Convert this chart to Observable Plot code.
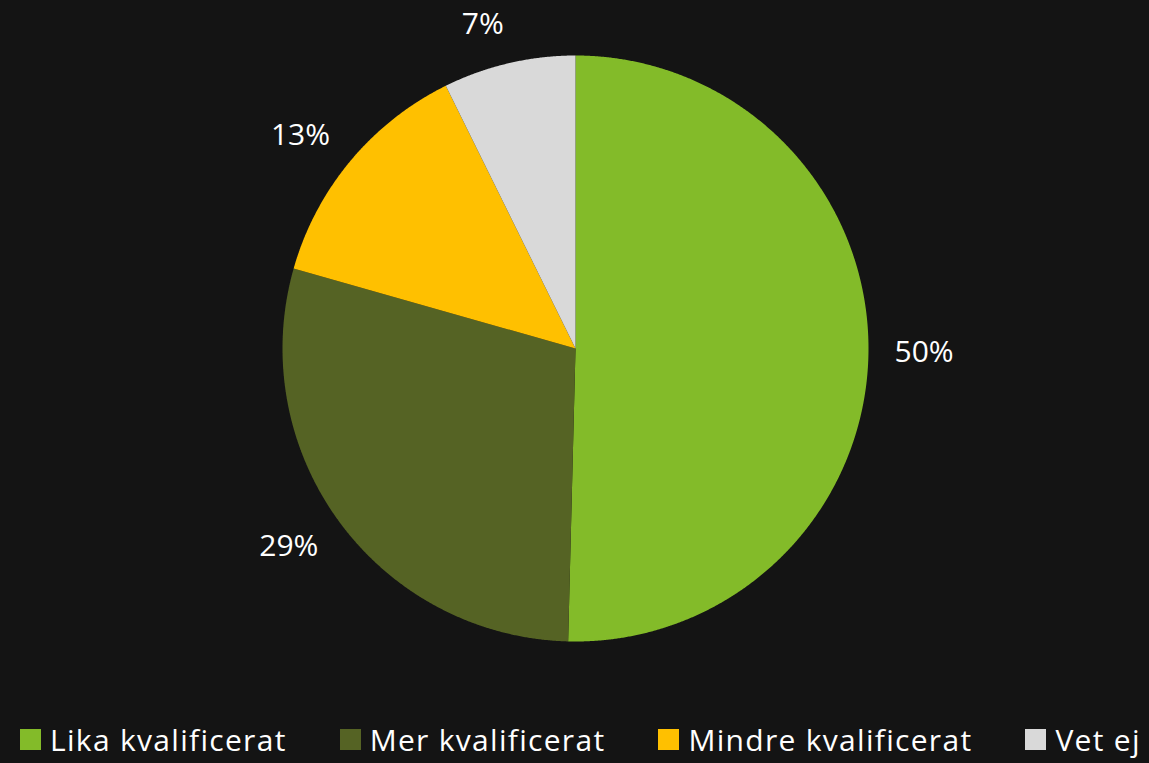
<!DOCTYPE html>
<html><head><meta charset="utf-8">
<script src="https://cdn.jsdelivr.net/npm/d3@7"></script>
<script src="https://cdn.jsdelivr.net/npm/@observablehq/plot@0.6"></script>
<style>
html,body{margin:0;padding:0;background:#141414;}
#chart{width:1149px;height:763px;overflow:hidden;background:#141414;}
#chart svg{display:block;background:#141414;}
.legend{display:flex;align-items:center;height:48px;padding-left:20px;font-family:"Open Sans",sans-serif;font-size:30px;color:#fff;letter-spacing:1.3px;white-space:nowrap}
.item{display:flex;align-items:center;margin-right:53px}
.sw{width:21px;height:21px;margin-right:9px;flex:none}
</style></head><body><div id="chart"></div>
<script>
const categories = ["Lika kvalificerat", "Mer kvalificerat", "Mindre kvalificerat", "Vet ej"];
const values = [50.4, 29.0, 13.3, 7.3];
const labels = ["50%", "29%", "13%", "7%"];
const colors = ["#83BB29", "#556324", "#FFC000", "#D9D9D9"];

const W = 1149, H = 715, cx = 575, cy = 348, R = 293;
const labelFont = 30, pad = 25;

const arcs = d3.pie().sort(null).value(d => d)(values);
const slices = [];
arcs.forEach((a, i) => {
  const cat = categories[i];
  slices.push({cat, x: 0, y: 0});
  const n = Math.max(8, Math.ceil((a.endAngle - a.startAngle) / 0.004));
  for (let k = 0; k <= n; k++) {
    const t = a.startAngle + (a.endAngle - a.startAngle) * k / n;
    slices.push({cat, x: Math.sin(t), y: Math.cos(t)});
  }
  slices.push({cat, x: 0, y: 0});
});

const labelData = arcs.map((a, i) => {
  const m = (a.startAngle + a.endAngle) / 2;
  const s = Math.sin(m), c = Math.cos(m);
  const w = labels[i].length * 0.68 * labelFont, h = labelFont * 1.0;
  const d = R + pad;
  return {
    text: labels[i],
    x: (s * d + Math.sign(s) * w / 2) / R,
    y: (c * d + c * h / 2) / R
  };
});

const plot = Plot.plot({
  width: W, height: H,
  marginTop: 0, marginRight: 0, marginBottom: 0, marginLeft: 0,
  style: {background: "#141414", color: "#fff"},
  x: {domain: [-cx / R, (W - cx) / R], range: [0, W], axis: null},
  y: {domain: [-(H - cy) / R, cy / R], range: [H, 0], axis: null},
  color: {domain: categories, range: colors},
  marks: [
    Plot.line(slices, {x: "x", y: "y", z: "cat", fill: "cat", stroke: "none", curve: "linear"}),
    Plot.text(labelData, {x: "x", y: "y", text: "text", fill: "#fff", fontSize: labelFont,
      fontFamily: "Open Sans", textAnchor: "middle", lineAnchor: "middle"})
  ]
});

const chart = document.getElementById("chart");
chart.appendChild(plot);

const legend = document.createElement("div");
legend.className = "legend";
categories.forEach((c, i) => {
  const it = document.createElement("div");
  it.className = "item";
  const sw = document.createElement("span");
  sw.className = "sw";
  sw.style.background = colors[i];
  const tx = document.createElement("span");
  tx.textContent = c;
  it.appendChild(sw); it.appendChild(tx);
  legend.appendChild(it);
});
chart.appendChild(legend);
</script>
</body></html>
